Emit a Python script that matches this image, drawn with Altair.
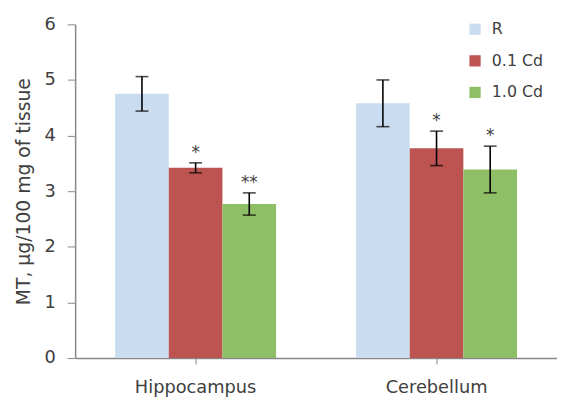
import altair as alt
import pandas as pd

tissues = ["Hippocampus", "Cerebellum"]
groups = ["R", "0.1 Cd", "1.0 Cd"]
means_hip = [4.75, 3.42, 2.77]
means_cer = [4.58, 3.77, 3.39]
err_hip = [0.31, 0.09, 0.20]
err_cer = [0.42, 0.31, 0.42]
sig_hip = ["", "*", "**"]
sig_cer = ["", "*", "*"]
colors = ["#CADCEF", "#BD5452", "#8EBE65"]

rows = []
for t, ms, es, ss in [(tissues[0], means_hip, err_hip, sig_hip), (tissues[1], means_cer, err_cer, sig_cer)]:
    for g, m, e, s in zip(groups, ms, es, ss):
        rows.append({"tissue": t, "group": g, "mean": m, "lo": m - e, "hi": m + e, "sig": s})
df = pd.DataFrame(rows)

FONT = "DejaVu Sans"
TXT = "#404040"
AX = "#888888"

base = alt.Chart(df).encode(
    x=alt.X("tissue:N", sort=tissues,
            scale=alt.Scale(paddingInner=0.332, paddingOuter=0.166),
            axis=alt.Axis(title=None, labelAngle=0, labelFontSize=18, labelFont=FONT,
                          labelColor=TXT, domainColor=AX, tickColor=AX, tickSize=6,
                          labelPadding=15, domainWidth=1.5)),
    xOffset=alt.XOffset("group:N", sort=groups, scale=alt.Scale(paddingInner=0, paddingOuter=0)),
)

bars = base.mark_bar().encode(
    y=alt.Y("mean:Q", scale=alt.Scale(domain=[0, 6]),
            axis=alt.Axis(values=[0, 1, 2, 3, 4, 5, 6], format="d", grid=False,
                          title="MT, μg/100 mg of tissue",
                          titleFont=FONT, titleFontSize=19, titleFontWeight="normal", titleColor=TXT,
                          titlePadding=11, labelFont=FONT, labelFontSize=18, labelColor=TXT,
                          domainColor=AX, tickColor=AX, tickSize=8, labelPadding=12, domainWidth=1.5)),
    color=alt.Color("group:N", sort=groups, scale=alt.Scale(domain=groups, range=colors),
                    legend=alt.Legend(title=None, orient="none", legendX=397, legendY=-3,
                                      symbolType="square", symbolSize=130, symbolStrokeWidth=0,
                                      labelFont=FONT, labelFontSize=16, labelColor=TXT,
                                      labelOffset=9, rowPadding=16, padding=0)),
)

rules = base.mark_rule(color="black", strokeWidth=1.6).encode(y="lo:Q", y2="hi:Q")
caps_hi = base.mark_tick(color="black", size=13, thickness=1.6).encode(y="hi:Q")
caps_lo = base.mark_tick(color="black", size=13, thickness=1.6).encode(y="lo:Q")
stars = base.mark_text(font=FONT, fontSize=17, color=TXT, baseline="alphabetic", dy=-5).encode(
    y="hi:Q", text="sig:N")

chart = alt.layer(bars, rules, caps_hi, caps_lo, stars).properties(
    width=488, height=338,
    autosize=alt.AutoSizeParams(type="none"),
    padding={"left": 68, "top": 14, "right": 0, "bottom": 45},
).configure_view(stroke=None)

chart.save("out.html", embed_options={"renderer": "svg", "actions": False})
